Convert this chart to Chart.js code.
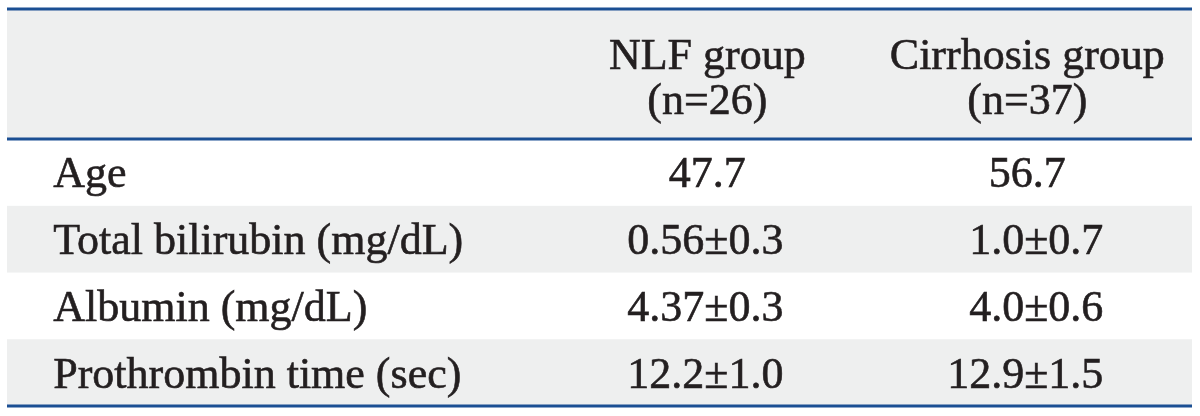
<!DOCTYPE html>
<html>
<head>
<meta charset="utf-8">
<script src="https://cdn.jsdelivr.net/npm/chart.js@4.4.0/dist/chart.umd.min.js"></script>
<style>
    html, body { margin: 0; padding: 0; background: #fff; }
</style>
</head>
<body>
<canvas id="table-chart" width="1200" height="416"></canvas>
<script>
    "use strict";

    // Table content
    var rowLabels = ["Age", "Total bilirubin (mg/dL)", "Albumin (mg/dL)", "Prothrombin time (sec)"];
    var groupNames = ["NLF group", "Cirrhosis group"];
    var groupSizes = [26, 37];
    var nlfMean = ["47.7", "0.56", "4.37", "12.2"];
    var nlfSd = ["", "0.3", "0.3", "1.0"];
    var cirrhosisMean = ["56.7", "1.0", "4.0", "12.9"];
    var cirrhosisSd = ["", "0.7", "0.6", "1.5"];

    // Layout: x in percent of table width, y in row units
    var HEADER_UNITS = 1.95;
    var labelX = 3.9;
    var columnX = [59.1, 86.1];
    var shadedRows = [1, 3];
    var PM_SHIFT = 9;   // the ± sign sits a little right of the column centre
    var RULE_COLOR = "#1b4f93";
    var SHADE_COLOR = "#eeefef";
    var TEXT_COLOR = "#231f20";
    var FONT = "44px 'Liberation Serif', 'Times New Roman', serif";

    function rowPoints(x) {
        return rowLabels.map(function (_, i) {
            return {x: x, y: HEADER_UNITS + i + 0.5};
        });
    }

    var datasets = [
        {label: "labels", data: rowPoints(labelX), texts: rowLabels, align: "left"},
        {label: groupNames[0], data: rowPoints(columnX[0]), means: nlfMean, sds: nlfSd, align: "center"},
        {label: groupNames[1], data: rowPoints(columnX[1]), means: cirrhosisMean, sds: cirrhosisSd, align: "center"},
        {
            label: "header",
            data: columnX.map(function (x) { return {x: x, y: HEADER_UNITS / 2}; }),
            texts: groupNames.map(function (g, i) { return [g, "(n=" + groupSizes[i] + ")"]; }),
            align: "center"
        }
    ];

    // Row shading and rules
    var tableBackground = {
        id: "tableBackground",
        beforeDatasetsDraw: function (chart) {
            var ctx = chart.ctx;
            var area = chart.chartArea;
            var y = chart.scales.y;
            ctx.save();
            ctx.fillStyle = SHADE_COLOR;
            ctx.fillRect(area.left, y.getPixelForValue(0), area.right - area.left,
                y.getPixelForValue(HEADER_UNITS) - y.getPixelForValue(0));
            shadedRows.forEach(function (r) {
                var top = y.getPixelForValue(HEADER_UNITS + r);
                var bottom = y.getPixelForValue(HEADER_UNITS + r + 1);
                ctx.fillRect(area.left, top, area.right - area.left, bottom - top);
            });
            ctx.strokeStyle = RULE_COLOR;
            ctx.lineWidth = 3;
            [0, HEADER_UNITS, HEADER_UNITS + rowLabels.length].forEach(function (v) {
                var py = y.getPixelForValue(v);
                ctx.beginPath();
                ctx.moveTo(area.left, py);
                ctx.lineTo(area.right, py);
                ctx.stroke();
            });
            ctx.restore();
        }
    };

    function putText(ctx, t, x, y, align) {
        ctx.textAlign = align;
        ctx.strokeText(t, x, y);
        ctx.fillText(t, x, y);
    }

    // Cell text at each point
    var tableText = {
        id: "tableText",
        afterDatasetsDraw: function (chart) {
            var ctx = chart.ctx;
            ctx.save();
            ctx.font = FONT;
            ctx.fillStyle = TEXT_COLOR;
            ctx.strokeStyle = TEXT_COLOR;
            ctx.lineWidth = 0.6;
            ctx.textBaseline = "alphabetic";
            var pmHalf = ctx.measureText("\u00b1").width / 2;
            chart.data.datasets.forEach(function (ds, d) {
                var meta = chart.getDatasetMeta(d);
                meta.data.forEach(function (pt, i) {
                    if (ds.means) {
                        var by = pt.y + 15;
                        if (ds.sds[i]) {
                            var cx = pt.x + PM_SHIFT;
                            putText(ctx, ds.means[i], cx - pmHalf, by, "right");
                            putText(ctx, "\u00b1", cx, by, "center");
                            putText(ctx, ds.sds[i], cx + pmHalf, by, "left");
                        } else {
                            putText(ctx, ds.means[i], pt.x, by, "center");
                        }
                        return;
                    }
                    var t = ds.texts[i];
                    if (Array.isArray(t)) {
                        putText(ctx, t[0], pt.x, pt.y - 5, ds.align);
                        putText(ctx, t[1], pt.x, pt.y + 40, ds.align);
                    } else {
                        putText(ctx, t, pt.x, pt.y + 15, ds.align);
                    }
                });
            });
            ctx.restore();
        }
    };

    var ctx1 = document.getElementById("table-chart").getContext("2d");
    var tableChart = new Chart(ctx1, {
        type: "scatter",
        data: {datasets: datasets},
        options: {
            responsive: false,
            animation: false,
            layout: {padding: {left: 7, right: 8, top: 9, bottom: 10}},
            elements: {point: {radius: 0, hoverRadius: 0}},
            scales: {
                x: {type: "linear", min: 0, max: 100, display: false},
                y: {type: "linear", min: 0, max: HEADER_UNITS + rowLabels.length, reverse: true, display: false}
            },
            plugins: {
                legend: {display: false},
                tooltip: {enabled: false}
            }
        },
        plugins: [tableBackground, tableText]
    });
</script>
</body>
</html>
